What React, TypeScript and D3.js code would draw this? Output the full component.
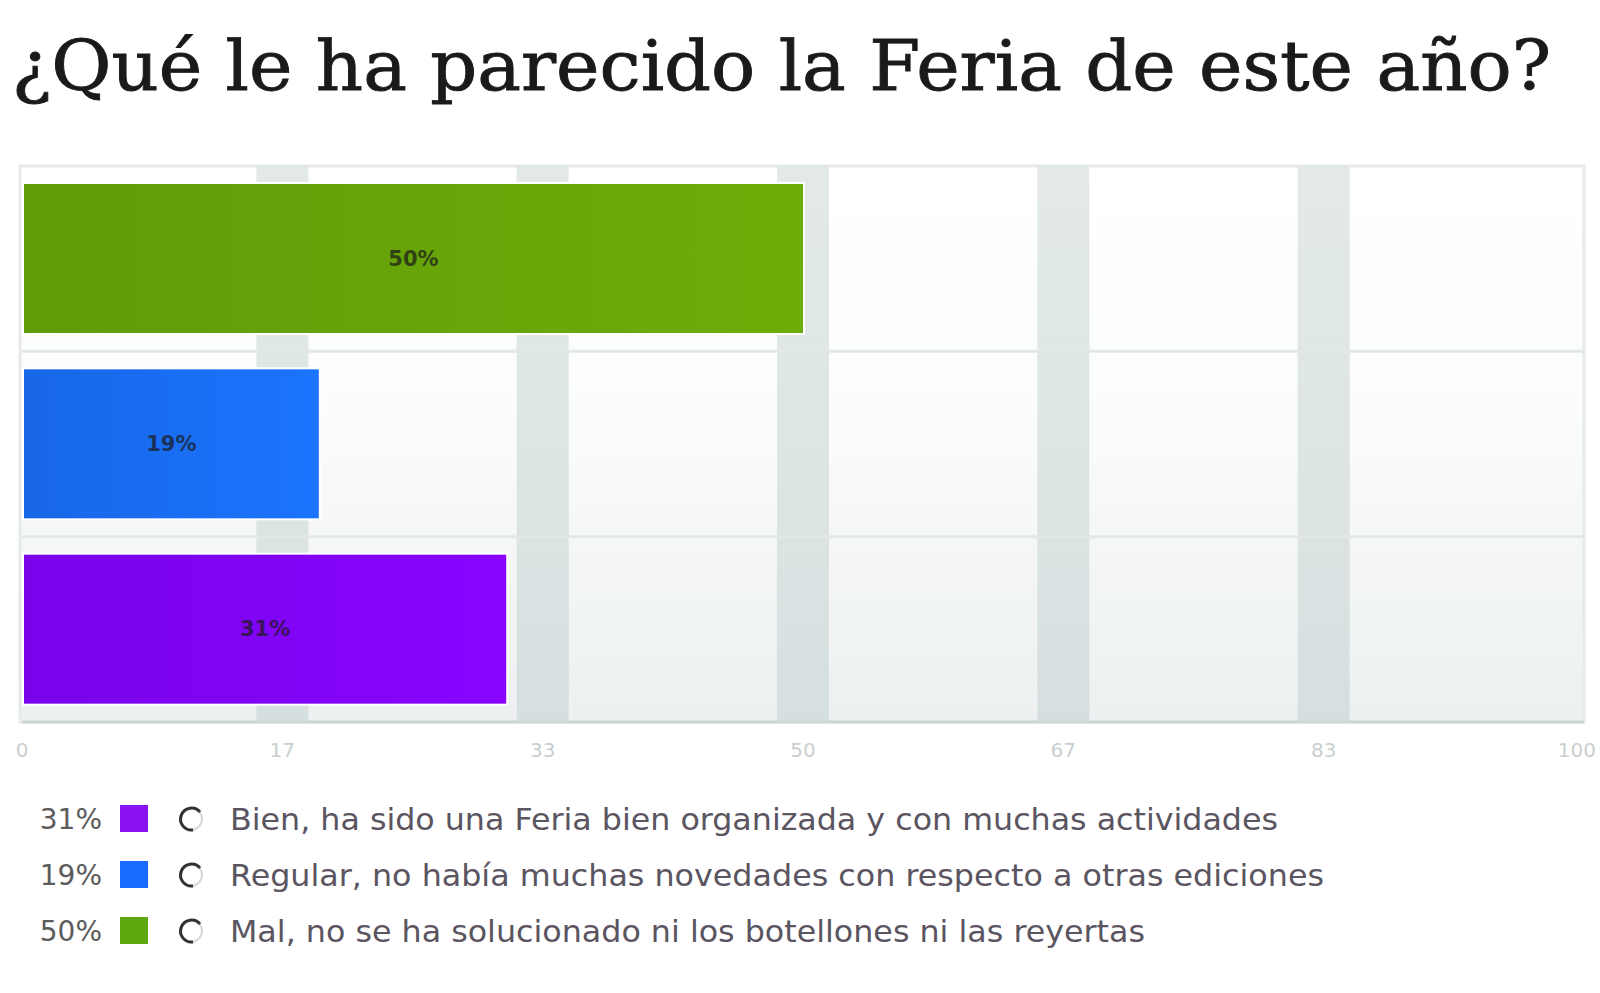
import React from "react";
import * as d3 from "d3";

const title = "¿Qué le ha parecido la Feria de este año?";
const categories = ["Mal", "Regular", "Bien"];
const values = [50, 19, 31];
const barColors = ["#68a609", "#1a6ff8", "#8204fb"];
const tickValues = [0, 100 / 6, 200 / 6, 50, 400 / 6, 500 / 6, 100];
const tickLabels = ["0", "17", "33", "50", "67", "83", "100"];
const legendPct = ["31%", "19%", "50%"];
const legendColors = ["#8a12f0", "#1a6cff", "#5ea80d"];
const legendTexts = [
  "Bien, ha sido una Feria bien organizada y con muchas actividades",
  "Regular, no había muchas novedades con respecto a otras ediciones",
  "Mal, no se ha solucionado ni los botellones ni las reyertas",
];
const legendWidths = [1048, 1094, 915];

export default function App() {
  const W = 1600;
  const H = 993;
  const plot = { left: 22, right: 1584, top: 166, bottom: 722 };
  const x = d3.scaleLinear().domain([0, 100]).range([plot.left, plot.right]);
  const rows = d3
    .scaleBand<string>()
    .domain(categories)
    .range([plot.top, plot.bottom])
    .paddingInner(0);
  const barTopPad = 18;
  const barH = 149;

  return (
    <svg
      width={W}
      height={H}
      style={{ position: "absolute", left: 0, top: 0, background: "#fff" }}
    >
      <defs>
        <linearGradient id="bg" x1="0" y1="0" x2="0" y2="1">
          <stop offset="0" stopColor="#ffffff" />
          <stop offset="0.45" stopColor="#fbfcfc" />
          <stop offset="1" stopColor="#edf0f0" />
        </linearGradient>
        <linearGradient id="band" x1="0" y1="0" x2="0" y2="1">
          <stop offset="0" stopColor="#dfe6e6" />
          <stop offset="1" stopColor="#d2dcdc" />
        </linearGradient>
        {barColors.map((c, i) => (
          <linearGradient key={i} id={`bar${i}`} x1="0" y1="0" x2="1" y2="0">
            <stop offset="0" stopColor={d3.color(c)!.darker(0.2).toString()} />
            <stop offset="1" stopColor={d3.color(c)!.brighter(0.12).toString()} />
          </linearGradient>
        ))}
      </defs>

      <text
        x={12}
        y={90}
        fontFamily="'DejaVu Serif', 'Liberation Serif', serif"
        fontSize={70}
        fill="#1a1a1a"
        stroke="#1a1a1a"
        strokeWidth={0.9}
        textLength={1539}
        lengthAdjust="spacingAndGlyphs"
      >
        {title}
      </text>

      {/* plot background */}
      <rect
        x={plot.left - 2}
        y={plot.top}
        width={plot.right - plot.left + 2}
        height={plot.bottom - plot.top}
        fill="url(#bg)"
        stroke="#e6eaea"
        strokeWidth={3}
      />

      {/* vertical bands */}
      {tickValues.slice(1, -1).map((t, i) => (
        <rect
          key={i}
          x={x(t) - 26}
          y={plot.top}
          width={52}
          height={plot.bottom - plot.top}
          fill="url(#band)"
          opacity={0.85}
        />
      ))}

      {/* horizontal gridlines */}
      {categories.slice(1).map((c) => (
        <line
          key={c}
          x1={plot.left}
          x2={plot.right}
          y1={rows(c)!}
          y2={rows(c)!}
          stroke="#e2e7e7"
          strokeWidth={3}
        />
      ))}

      {/* bottom axis line */}
      <line
        x1={plot.left}
        x2={plot.right}
        y1={plot.bottom}
        y2={plot.bottom}
        stroke="#cdd6d6"
        strokeWidth={3}
      />

      {/* bars */}
      {categories.map((c, i) => {
        const y0 = rows(c)! + barTopPad;
        const x0 = x(0) + 2;
        const w = x(values[i]) - x0;
        return (
          <g key={c}>
            <rect x={x0 - 2} y={y0 - 2} width={w + 4} height={barH + 4} fill="#ffffff" />
            <rect x={x0} y={y0} width={w} height={barH} fill={`url(#bar${i})`} />
            <text
              x={x0 + w / 2}
              y={y0 + barH / 2}
              textAnchor="middle"
              dominantBaseline="central"
              fontFamily="'DejaVu Sans', Verdana, sans-serif"
              fontWeight="bold"
              fontSize={21}
              fill="#1a1a1a"
              opacity={0.7}
            >
              {`${values[i]}%`}
            </text>
          </g>
        );
      })}

      {/* tick labels */}
      {tickValues.map((t, i) => {
        const last = i === tickValues.length - 1;
        return (
          <text
            key={i}
            x={last ? x(t) + 12 : x(t)}
            y={757}
            textAnchor={last ? "end" : "middle"}
            fontFamily="'DejaVu Sans', Verdana, sans-serif"
            fontSize={20}
            fill="#c9cfcf"
          >
            {tickLabels[i]}
          </text>
        );
      })}

      {/* legend */}
      {legendTexts.map((t, i) => {
        const cy = 819 + i * 56;
        return (
          <g key={i}>
            <text
              x={102}
              y={cy + 10}
              textAnchor="end"
              fontFamily="'DejaVu Sans', Verdana, sans-serif"
              fontSize={28}
              fill="#5c5c5c"
            >
              {legendPct[i]}
            </text>
            <rect x={120} y={cy - 14} width={28} height={27} fill={legendColors[i]} />
            <circle cx={191} cy={cy} r={11} fill="#fff" stroke="#d8d8d8" strokeWidth={2} />
            <path
              d={`M ${191 + 9} ${cy - 7} A 11 11 0 1 0 ${191 + 2} ${cy + 11}`}
              fill="none"
              stroke="#333"
              strokeWidth={3}
            />
            <text
              x={230}
              y={cy + 11}
              fontFamily="'DejaVu Sans', Verdana, sans-serif"
              fontSize={31}
              fill="#5a5560"
              textLength={legendWidths[i]}
              lengthAdjust="spacingAndGlyphs"
            >
              {t}
            </text>
          </g>
        );
      })}
    </svg>
  );
}
